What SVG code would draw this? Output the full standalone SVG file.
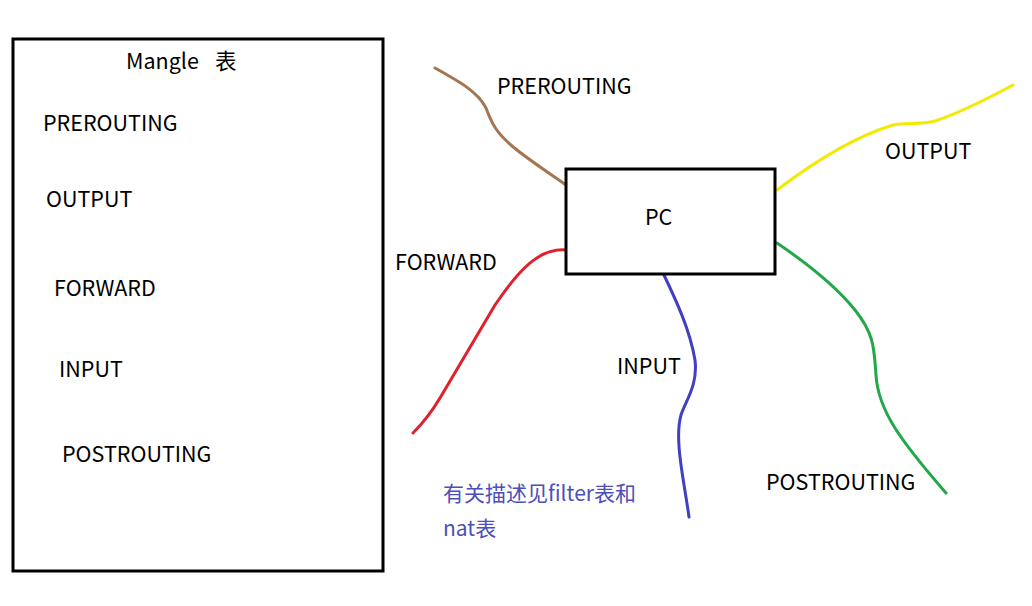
<svg xmlns="http://www.w3.org/2000/svg" width="1032" height="606" viewBox="0 0 1032 606">
<style>
.box{fill:#fff;stroke:#000;stroke-width:3}
.t{font-family:"Noto Sans CJK SC","Noto Sans",sans-serif;font-size:21.5px;fill:#000}
.note{font-family:"Noto Sans CJK SC","Noto Sans",sans-serif;font-size:21px;fill:#4b4fb8}
.c{fill:none;stroke-width:3;stroke-linecap:round;stroke-linejoin:round}
</style>
<rect width="1032" height="606" fill="#fff"/>
<g id="mangle">
<rect class="box" x="13" y="39" width="370" height="532"/>
<text class="t" x="126" y="69">Mangle</text>
<text class="t" x="215" y="69">表</text>
<text class="t" x="43" y="131">PREROUTING</text>
<text class="t" x="46" y="207">OUTPUT</text>
<text class="t" x="54" y="296">FORWARD</text>
<text class="t" x="59" y="377">INPUT</text>
<text class="t" x="62" y="462">POSTROUTING</text>
</g>
<g id="connectors">
<path class="c" stroke="#a47551" d="M435,68 C460,82 478,92 486,108 C492,124 496,132 512,146 C530,161 548,172 566,185"/>
<path class="c" stroke="#e0202c" d="M566,250 C540,248 520,268 495,305 L440,398 Q428,418 413,433"/>
<path class="c" stroke="#4040c0" d="M663,273 C676,300 690,330 695,360 C698,385 686,400 681,415 C674,440 684,480 689,517"/>
<path class="c" stroke="#f2ea00" d="M777,190 C810,165 850,138 893,125 C905,122 920,125 935,121 C960,113 985,100 1013,85"/>
<path class="c" stroke="#22a84a" d="M777,243 C805,262 835,285 855,310 C875,335 874,350 876,375 C878,410 900,440 946,493"/>
</g>
<g id="pc">
<rect class="box" x="566" y="169" width="209" height="105"/>
<text class="t" x="645" y="225">PC</text>
</g>
<g id="labels">
<text class="t" x="497" y="94">PREROUTING</text>
<text class="t" x="395" y="270">FORWARD</text>
<text class="t" x="617" y="374">INPUT</text>
<text class="t" x="885" y="159">OUTPUT</text>
<text class="t" x="766" y="490">POSTROUTING</text>
</g>
<g id="note">
<text class="note" x="443" y="501">有关描述见filter表和</text>
<text class="note" x="443" y="536">nat表</text>
</g>
</svg>
